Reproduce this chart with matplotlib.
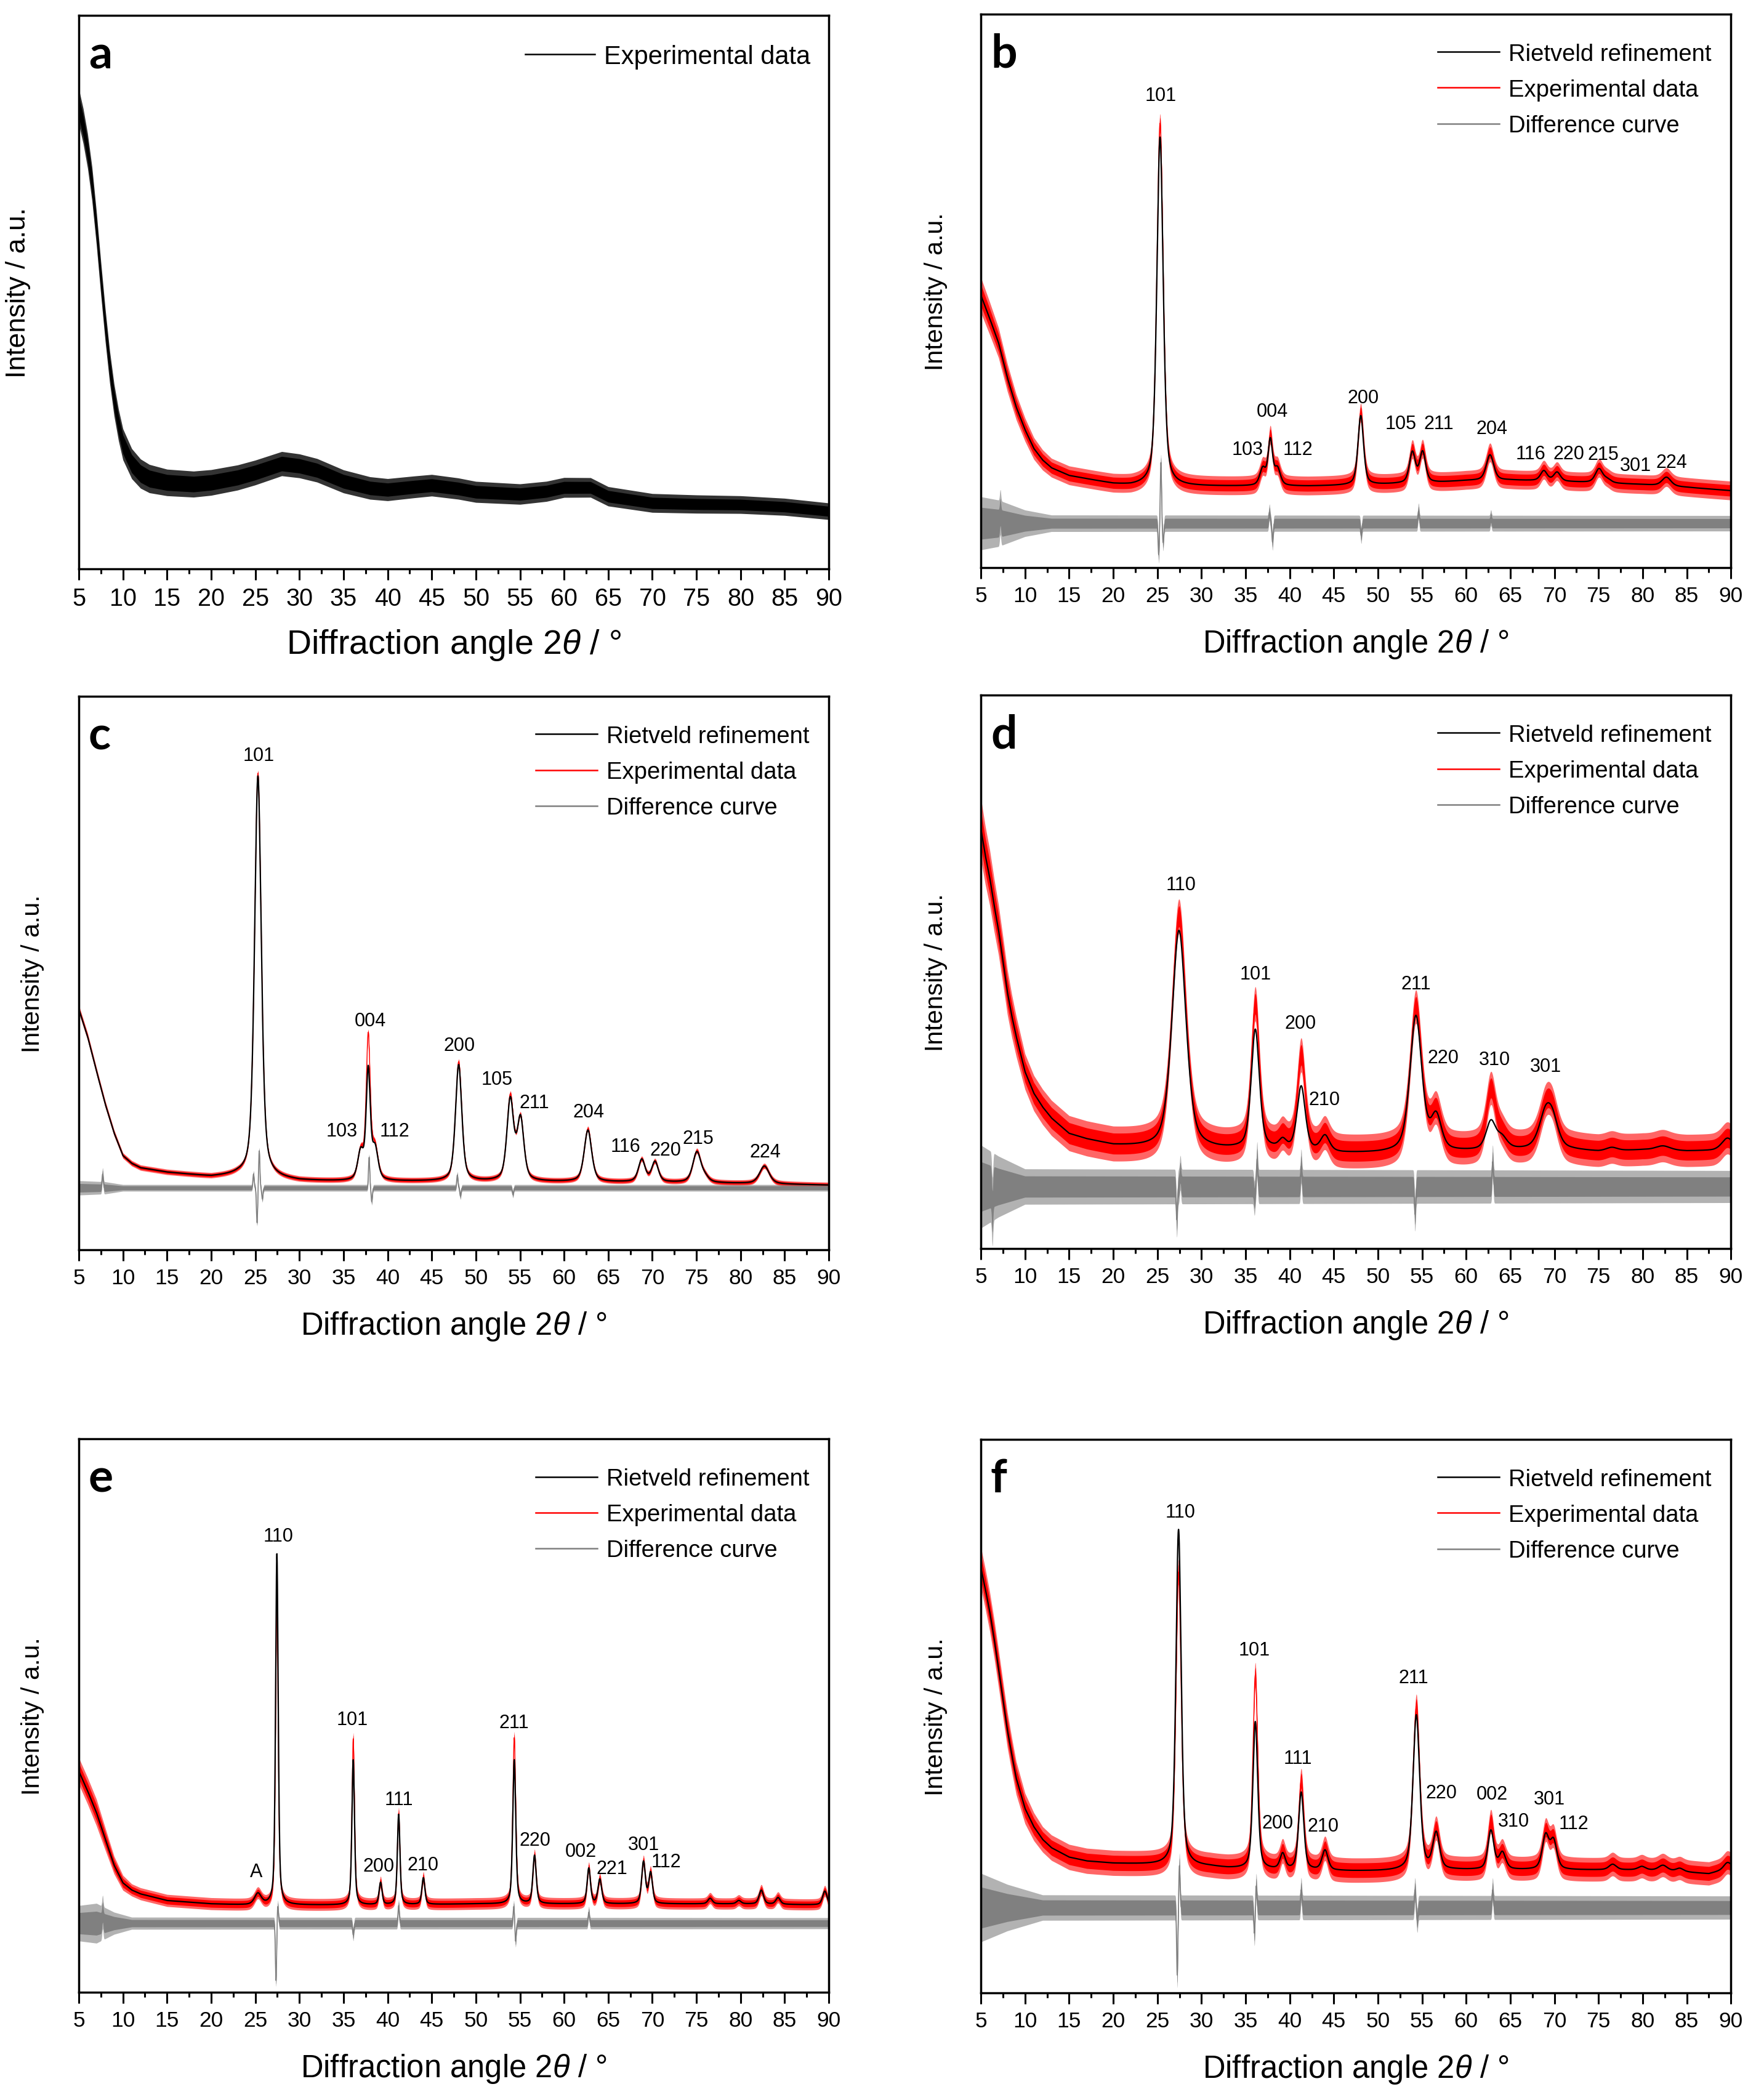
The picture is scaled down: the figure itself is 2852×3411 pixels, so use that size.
import numpy as np
import matplotlib
matplotlib.use("Agg")
import matplotlib.pyplot as plt
from matplotlib.lines import Line2D
from matplotlib.ticker import MultipleLocator

plt.rcParams['font.family'] = ['Liberation Sans', 'DejaVu Sans']
plt.rcParams['mathtext.fontset'] = 'custom'
plt.rcParams['mathtext.rm'] = 'Liberation Sans'
plt.rcParams['mathtext.it'] = 'Liberation Sans:italic'

# ---------------- data (intensity in fraction of panel height) ----------------
# panel a : amorphous sample, experimental data only
a_bkg_x = [5, 5.5, 6, 6.5, 7, 7.5, 8, 8.5, 9, 9.5, 10, 11, 12, 13, 15, 18, 20, 23, 25, 28, 30, 32,
           35, 38, 40, 43, 45, 48, 50, 55, 58, 60, 63, 65, 70, 75, 80, 85, 90]
a_bkg_y = [0.835, 0.80, 0.755, 0.695, 0.615, 0.525, 0.44, 0.365, 0.305, 0.26, 0.225, 0.19, 0.172,
           0.163, 0.156, 0.153, 0.156, 0.165, 0.174, 0.19, 0.186, 0.178, 0.158, 0.146, 0.143, 0.148,
           0.151, 0.145, 0.139, 0.135, 0.14, 0.147, 0.147, 0.131, 0.119, 0.117, 0.116, 0.112, 0.104]
a_noise_x = [5, 10, 15, 40, 90]
a_noise_obs = [0.032, 0.028, 0.024, 0.02, 0.015]

# panel b : anatase
b_bkg_x = [5, 6, 7, 8, 9, 10, 11, 12, 13, 15, 18, 20, 22, 24, 28, 30, 35, 42, 45, 50, 57, 60, 65,
           70, 75, 80, 85, 90]
b_bkg_y = [0.492, 0.45, 0.406, 0.343, 0.29, 0.249, 0.215, 0.194, 0.18, 0.166, 0.157, 0.151, 0.148,
           0.148, 0.147, 0.147, 0.147, 0.147, 0.148, 0.15, 0.154, 0.157, 0.158, 0.156, 0.153, 0.15,
           0.145, 0.139]
b_peak_pos = [25.3, 36.95, 37.8, 38.6, 48.05, 53.9, 55.06, 62.7, 68.8, 70.3, 75.05, 76.0, 82.7]
b_peak_calc = [0.63, 0.03, 0.08, 0.03, 0.125, 0.055, 0.055, 0.046, 0.018, 0.016, 0.025, 0.006, 0.016]
b_peak_obs = [0.655, 0.03, 0.085, 0.03, 0.13, 0.058, 0.058, 0.05, 0.019, 0.017, 0.026, 0.006, 0.016]
b_peak_fwhm = [0.85, 0.8, 0.6, 0.8, 0.75, 0.8, 0.8, 1.0, 0.9, 0.9, 1.0, 1.0, 1.2]
b_noise_x = [5, 7, 10, 13, 90]
b_noise_obs = [0.032, 0.027, 0.021, 0.017, 0.017]
b_noise_diff = [0.048, 0.042, 0.024, 0.015, 0.014]
b_diff_base = 0.08
b_diff_pos = [7.2, 25.15, 25.4, 25.65, 37.7, 38.05, 48.1, 54.6, 62.8]
b_diff_amp = [0.02, -0.057, 0.11, -0.035, 0.02, -0.034, -0.022, 0.022, 0.01]
b_lab = ["101", "004", "103", "112", "200", "105", "211", "204", "116", "220", "215", "301", "224"]
b_lab_x = [25.4, 38.0, 35.2, 40.9, 48.3, 52.6, 56.9, 62.9, 67.3, 71.6, 75.5, 79.2, 83.3]
b_lab_y = [0.853, 0.282, 0.214, 0.214, 0.307, 0.26, 0.26, 0.251, 0.206, 0.206, 0.205, 0.185, 0.19]

# panel c : anatase (well crystallised)
c_bkg_x = [5, 5.5, 6, 7, 8, 9, 10, 11, 12, 15, 20, 23, 30, 35, 45, 60, 70, 80, 90]
c_bkg_y = [0.435, 0.41, 0.385, 0.323, 0.263, 0.211, 0.17, 0.156, 0.148, 0.14, 0.132, 0.134, 0.125,
           0.124, 0.124, 0.123, 0.122, 0.12, 0.117]
c_peak_pos = [25.3, 36.95, 37.8, 38.57, 48.05, 53.9, 55.06, 62.7, 68.8, 70.3, 75.05, 76.0, 82.7]
c_peak_calc = [0.725, 0.05, 0.195, 0.055, 0.21, 0.145, 0.11, 0.093, 0.04, 0.036, 0.055, 0.008, 0.032]
c_peak_obs = [0.73, 0.05, 0.255, 0.055, 0.215, 0.15, 0.11, 0.095, 0.04, 0.036, 0.056, 0.008, 0.032]
c_peak_fwhm = [0.9, 0.8, 0.55, 0.8, 0.85, 0.9, 0.9, 1.0, 0.9, 0.9, 1.1, 1.0, 1.3]
c_noise_x = [5, 8, 10, 90]
c_noise_obs = [0.007, 0.006, 0.005, 0.005]
c_noise_diff = [0.013, 0.011, 0.006, 0.006]
c_diff_base = 0.112
c_diff_pos = [7.7, 24.8, 25.2, 25.45, 25.8, 37.9, 38.2, 47.9, 48.25, 54.2]
c_diff_amp = [0.025, 0.025, -0.063, 0.067, -0.02, 0.055, -0.025, 0.023, -0.015, -0.012]
c_lab = ["101", "004", "103", "112", "200", "105", "211", "204", "116", "220", "215", "224"]
c_lab_x = [25.4, 38.0, 34.8, 40.8, 48.1, 52.4, 56.6, 62.8, 67.0, 71.5, 75.2, 82.8]
c_lab_y = [0.893, 0.414, 0.215, 0.215, 0.369, 0.308, 0.266, 0.249, 0.187, 0.18, 0.202, 0.177]

# panel d : rutile (broad)
d_bkg_x = [5, 5.5, 6, 6.5, 7, 7.5, 8, 8.5, 9, 10, 11, 12, 13, 15, 17, 20, 25, 32, 38, 46, 50, 58,
           65, 72, 75, 80, 85, 88, 90]
d_bkg_y = [0.758, 0.71, 0.67, 0.62, 0.575, 0.52, 0.463, 0.42, 0.383, 0.319, 0.28, 0.255, 0.235,
           0.207, 0.197, 0.186, 0.18, 0.178, 0.178, 0.172, 0.172, 0.174, 0.178, 0.178, 0.175, 0.178,
           0.176, 0.177, 0.18]
d_peak_pos = [27.45, 36.1, 39.2, 41.3, 44.0, 54.3, 56.6, 62.8, 64.05, 69.0, 69.8, 76.5, 82.3, 89.6]
d_peak_calc = [0.395, 0.215, 0.015, 0.115, 0.028, 0.245, 0.06, 0.05, 0.02, 0.06, 0.04, 0.006, 0.008, 0.02]
d_peak_obs = [0.42, 0.26, 0.02, 0.17, 0.03, 0.26, 0.065, 0.107, 0.02, 0.065, 0.045, 0.006, 0.008, 0.02]
d_peak_fwhm = [1.9, 1.1, 1.0, 1.1, 1.2, 1.6, 1.4, 1.3, 1.4, 1.8, 1.6, 1.5, 2.0, 1.5]
d_noise_x = [5, 7, 10, 90]
d_noise_obs = [0.055, 0.045, 0.032, 0.029]
d_noise_diff = [0.075, 0.055, 0.032, 0.029]
d_diff_base = 0.112
d_diff_pos = [6.3, 27.2, 27.6, 36.0, 36.3, 41.3, 54.2, 63.0]
d_diff_amp = [-0.045, -0.06, 0.025, -0.021, 0.05, 0.037, -0.05, 0.045]
d_lab = ["110", "101", "200", "210", "211", "220", "310", "301"]
d_lab_x = [27.7, 36.1, 41.2, 43.9, 54.3, 57.4, 63.2, 69.0]
d_lab_y = [0.658, 0.496, 0.407, 0.269, 0.478, 0.345, 0.342, 0.329]

# panel e : rutile (sharp) with anatase trace "A"
e_bkg_x = [5, 6, 7, 8, 9, 10, 11, 12, 15, 20, 24, 30, 40, 50, 60, 70, 80, 90]
e_bkg_y = [0.40, 0.364, 0.325, 0.277, 0.23, 0.198, 0.185, 0.178, 0.166, 0.16, 0.158, 0.158, 0.158,
           0.16, 0.16, 0.16, 0.16, 0.158]
e_peak_pos = [25.3, 27.45, 36.1, 39.2, 41.25, 44.05, 54.35, 56.65, 62.8, 64.05, 69.0, 69.8, 76.55,
              79.8, 82.35, 84.25, 89.55]
e_peak_calc = [0.02, 0.634, 0.262, 0.04, 0.163, 0.048, 0.26, 0.087, 0.064, 0.044, 0.075, 0.055, 0.01,
               0.006, 0.025, 0.012, 0.025]
e_peak_obs = [0.02, 0.545, 0.30, 0.04, 0.165, 0.048, 0.30, 0.087, 0.064, 0.044, 0.075, 0.055, 0.01,
              0.006, 0.025, 0.012, 0.025]
e_peak_fwhm = [0.9, 0.35, 0.35, 0.4, 0.35, 0.4, 0.4, 0.45, 0.45, 0.5, 0.5, 0.5, 0.6, 0.6, 0.6, 0.6, 0.6]
e_noise_x = [5, 7, 9, 11, 90]
e_noise_obs = [0.024, 0.024, 0.016, 0.011, 0.01]
e_noise_diff = [0.032, 0.036, 0.02, 0.011, 0.01]
e_diff_base = 0.125
e_diff_pos = [7.7, 27.35, 27.55, 36.1, 41.25, 54.3, 54.5, 62.8]
e_diff_amp = [0.02, -0.104, 0.032, -0.021, 0.032, 0.031, -0.033, 0.02]
e_lab = ["110", "A", "101", "200", "111", "210", "211", "220", "002", "221", "301", "112"]
e_lab_x = [27.6, 25.1, 36.0, 39.0, 41.3, 44.0, 54.3, 56.7, 61.9, 65.4, 69.0, 71.6]
e_lab_y = [0.825, 0.218, 0.493, 0.228, 0.349, 0.231, 0.488, 0.275, 0.255, 0.224, 0.267, 0.236]

# panel f : rutile
f_bkg_x = [5, 5.5, 6, 6.5, 7, 7.5, 8, 8.5, 9, 10, 11, 12, 13, 15, 17, 20, 24, 31, 33, 38, 47, 50,
           59, 66, 73, 80, 85, 87.5, 90]
f_bkg_y = [0.768, 0.73, 0.689, 0.64, 0.586, 0.53, 0.475, 0.43, 0.388, 0.333, 0.3, 0.277, 0.262,
           0.245, 0.238, 0.234, 0.232, 0.228, 0.225, 0.222, 0.22, 0.22, 0.222, 0.222, 0.222, 0.222,
           0.218, 0.215, 0.225]
f_peak_pos = [27.4, 36.1, 39.2, 41.3, 44.0, 54.35, 56.6, 62.8, 64.1, 69.0, 69.9, 76.6, 79.9, 82.3,
              84.2, 89.6]
f_peak_calc = [0.607, 0.266, 0.028, 0.14, 0.036, 0.28, 0.065, 0.07, 0.03, 0.06, 0.05, 0.01, 0.006,
               0.01, 0.006, 0.012]
f_peak_obs = [0.53, 0.35, 0.03, 0.16, 0.038, 0.295, 0.07, 0.085, 0.03, 0.065, 0.052, 0.01, 0.006,
              0.01, 0.006, 0.012]
f_peak_fwhm = [0.7, 0.65, 0.7, 0.7, 0.8, 0.9, 0.9, 0.8, 0.9, 0.9, 0.9, 1.0, 1.0, 1.2, 1.0, 1.0]
f_noise_x = [5, 8, 12, 90]
f_noise_obs = [0.037, 0.032, 0.023, 0.021]
f_noise_diff = [0.062, 0.042, 0.023, 0.021]
f_diff_base = 0.154
f_diff_pos = [27.25, 27.5, 36.0, 36.2, 41.3, 54.2, 54.45, 63.0]
f_diff_amp = [-0.122, 0.076, -0.047, 0.04, 0.032, 0.032, -0.023, 0.032]
f_lab = ["110", "101", "200", "111", "210", "211", "220", "002", "310", "301", "112"]
f_lab_x = [27.6, 36.0, 38.6, 40.9, 43.8, 54.0, 57.2, 62.9, 65.4, 69.4, 72.2]
f_lab_y = [0.869, 0.619, 0.307, 0.424, 0.301, 0.57, 0.361, 0.359, 0.31, 0.35, 0.306]

legend_labels = ["Rietveld refinement", "Experimental data", "Difference curve"]

# ---------------- helpers ----------------
x = np.linspace(5, 90, 8501)


def profile(pos, hts, fwhm, eta=0.5):
    out = np.zeros_like(x)
    for p, h, w in zip(pos, hts, fwhm):
        d = (x - p) / w
        out += h * (eta / (1 + 4 * d ** 2) + (1 - eta) * np.exp(-4 * np.log(2) * d ** 2))
    return out


def spikes(pos, amp, sig=0.07):
    out = np.zeros_like(x)
    for p, a in zip(pos, amp):
        out += a * np.exp(-0.5 * ((x - p) / sig) ** 2)
    return out


def band(ax, y, amp, color, outer_alpha=0.6):
    ax.fill_between(x, y - amp, y + amp, color=color, lw=0, alpha=outer_alpha)
    ax.fill_between(x, y - 0.6 * amp, y + 0.6 * amp, color=color, lw=0)


RED = '#ff0000'
GRAY = '#808080'
LAB_FS = 22

W, H = 0.4271, 0.2635
positions = {'a': (0.04488, 0.7289), 'b': (0.5586, 0.7295),
             'c': (0.04488, 0.4047), 'd': (0.5586, 0.4053),
             'e': (0.04488, 0.0512), 'f': (0.5586, 0.0510)}

fig = plt.figure(figsize=(28.52, 34.12), dpi=100)


def style_axes(ax, letter, ylab_x, tick_fs, xl_fs, yl_fs):
    ax.set_xlim(5, 90)
    ax.set_ylim(0, 1)
    ax.xaxis.set_major_locator(MultipleLocator(5))
    ax.xaxis.set_minor_locator(MultipleLocator(2.5))
    ax.set_yticks([])
    ax.tick_params(axis='x', which='major', direction='out', length=13, width=2.2,
                   labelsize=tick_fs, pad=8)
    ax.tick_params(axis='x', which='minor', direction='out', length=6, width=2.2)
    for s in ax.spines.values():
        s.set_linewidth(2.5)
    ax.set_xlabel(r'Diffraction angle 2$\mathit{\theta}$ / °', fontsize=xl_fs)
    ax.xaxis.set_label_coords(0.5, -0.137)
    ax.xaxis.label.set_va('center')
    ax.set_ylabel('Intensity / a.u.', fontsize=yl_fs)
    ax.yaxis.set_label_coords(ylab_x, 0.5)
    ax.yaxis.label.set_va('center')
    ax.text(0.013, 0.905, letter, transform=ax.transAxes, fontsize=54, fontweight='bold',
            family=['Lato', 'DejaVu Sans'], ha='left', va='baseline')


def add_legend(ax, handles, labels, x0, fs, hlen, pad):
    ax.legend(handles, labels, loc='upper left', bbox_to_anchor=(x0, 0.948), frameon=False,
              fontsize=fs, handlelength=hlen, handletextpad=pad, labelspacing=0.58,
              borderpad=0, borderaxespad=0)


# ---------------- panel a ----------------
ax = fig.add_axes([positions['a'][0], positions['a'][1], W, H])
ya = np.interp(x, a_bkg_x, a_bkg_y)
na = np.interp(x, a_noise_x, a_noise_obs)
band(ax, ya, na, 'black', outer_alpha=0.8)
ax.plot(x, ya, color='black', lw=1.2)
style_axes(ax, 'a', -0.0806, 28.5, 40, 32)
add_legend(ax, [Line2D([], [], color='black', lw=1.8)], ["Experimental data"], 0.595, 30, 2.71, 0.36)

# ---------------- refinement panels ----------------
panels = [
    ('b', b_bkg_x, b_bkg_y, b_peak_pos, b_peak_calc, b_peak_obs, b_peak_fwhm, b_noise_x,
     b_noise_obs, b_noise_diff, b_diff_base, b_diff_pos, b_diff_amp, b_lab, b_lab_x, b_lab_y, -0.06),
    ('c', c_bkg_x, c_bkg_y, c_peak_pos, c_peak_calc, c_peak_obs, c_peak_fwhm, c_noise_x,
     c_noise_obs, c_noise_diff, c_diff_base, c_diff_pos, c_diff_amp, c_lab, c_lab_x, c_lab_y, -0.0617),
    ('d', d_bkg_x, d_bkg_y, d_peak_pos, d_peak_calc, d_peak_obs, d_peak_fwhm, d_noise_x,
     d_noise_obs, d_noise_diff, d_diff_base, d_diff_pos, d_diff_amp, d_lab, d_lab_x, d_lab_y, -0.06),
    ('e', e_bkg_x, e_bkg_y, e_peak_pos, e_peak_calc, e_peak_obs, e_peak_fwhm, e_noise_x,
     e_noise_obs, e_noise_diff, e_diff_base, e_diff_pos, e_diff_amp, e_lab, e_lab_x, e_lab_y, -0.0617),
    ('f', f_bkg_x, f_bkg_y, f_peak_pos, f_peak_calc, f_peak_obs, f_peak_fwhm, f_noise_x,
     f_noise_obs, f_noise_diff, f_diff_base, f_diff_pos, f_diff_amp, f_lab, f_lab_x, f_lab_y, -0.06),
]

for (letter, bx, by, ppos, pcalc, pobs, pw, nx, nobs, ndiff, dbase, dpos, damp,
     labs, labx, laby, ylx) in panels:
    ax = fig.add_axes([positions[letter][0], positions[letter][1], W, H])
    bkg = np.interp(x, bx, by)
    ycalc = bkg + profile(ppos, pcalc, pw)
    yobs = bkg + profile(ppos, pobs, pw)
    no = np.interp(x, nx, nobs)
    nd = np.interp(x, nx, ndiff)
    ydiff = dbase + spikes(dpos, damp)
    band(ax, yobs, no, RED)
    ax.plot(x, yobs, color=RED, lw=1.0)
    ax.plot(x, ycalc, color='black', lw=1.6)
    band(ax, ydiff, nd, GRAY)
    ax.plot(x, ydiff, color=GRAY, lw=1.2)
    for t, tx, ty in zip(labs, labx, laby):
        ax.text(tx, ty, t, fontsize=LAB_FS, ha='center', va='center')
    style_axes(ax, letter, ylx, 25.5, 36.5, 29.7)
    handles = [Line2D([], [], color='black', lw=1.8), Line2D([], [], color=RED, lw=1.8),
               Line2D([], [], color=GRAY, lw=1.8)]
    add_legend(ax, handles, legend_labels, 0.609, 27.5, 2.62, 0.39)

fig.savefig('out.png', dpi=100)
